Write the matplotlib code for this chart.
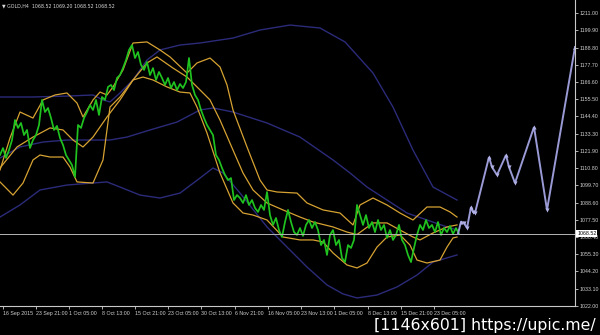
import numpy as np
import matplotlib
matplotlib.use("Agg")
import matplotlib.pyplot as plt
import matplotlib.transforms as mtransforms

# price series (H4 closes, read every 3 bars)
price = [1119.4, 1123.9, 1117.5, 1122.6, 1129.1, 1142.0, 1136.9, 1140.1, 1132.3, 1135.6,
         1123.9, 1129.1, 1132.3, 1138.8, 1155.0, 1147.2, 1149.8, 1143.3, 1135.6, 1138.2,
         1130.4, 1125.9, 1119.4, 1116.2, 1112.9, 1105.2, 1138.8, 1136.9, 1143.3, 1147.2,
         1151.7, 1148.5, 1155.0, 1145.3, 1156.9, 1155.0, 1163.4, 1164.7, 1161.4, 1169.2,
         1171.1, 1175.6, 1180.8, 1187.3, 1190.5, 1182.1, 1186.0, 1177.6, 1174.4, 1179.5,
         1171.1, 1175.6, 1167.9, 1173.1, 1169.2, 1164.7, 1169.2, 1162.7, 1166.6, 1161.4,
         1165.3, 1162.7, 1166.6, 1182.1, 1164.7, 1158.2, 1155.0, 1148.5, 1143.3, 1138.8,
         1135.6, 1132.3, 1119.4, 1116.2, 1111.0, 1106.5, 1103.2, 1104.5, 1090.3, 1093.5,
         1091.6, 1088.4, 1093.5, 1087.1, 1090.3, 1085.2, 1082.6, 1087.1, 1083.9, 1095.5,
         1080.6, 1074.2, 1078.7, 1070.9, 1066.4, 1076.1, 1083.9, 1076.1, 1069.6, 1067.7,
         1072.2, 1067.1, 1074.2, 1077.4, 1072.2, 1076.1, 1070.9, 1061.2, 1064.5, 1054.8,
         1067.7, 1070.9, 1061.2, 1064.5, 1052.8, 1050.2, 1061.2, 1059.3, 1064.5, 1087.1,
         1080.6, 1074.2, 1080.6, 1072.2, 1076.1, 1069.6, 1077.4, 1070.9, 1074.2, 1065.8,
         1070.9, 1064.5, 1067.7, 1074.2, 1064.5, 1061.2, 1054.8, 1050.2, 1059.3, 1067.7,
         1074.2, 1070.9, 1077.4, 1072.2, 1074.2, 1069.6, 1076.1, 1067.7, 1072.2, 1069.6,
         1073.5, 1068.4, 1072.2, 1068.5]
bars = np.arange(len(price)) * 3

# short bollinger bands (orange)
bb_up_x = [0, 10, 20, 33, 43, 55, 67, 77, 83, 93, 100, 107, 113, 123, 133, 147, 160, 170, 187, 197,
           210, 220, 227, 233, 247, 260, 267, 277, 297, 307, 323, 340, 353, 360, 373, 387, 400, 413,
           427, 440, 450, 457]
bb_up = [1109.7, 1130.4, 1147.2, 1143.3, 1155.0, 1158.2, 1159.5, 1153.0, 1144.0, 1155.0, 1160.1,
         1158.2, 1163.4, 1174.4, 1191.8, 1192.5, 1187.3, 1182.8, 1172.4, 1178.9, 1182.1, 1176.3,
         1164.7, 1148.5, 1124.6, 1103.2, 1096.8, 1095.5, 1094.8, 1088.4, 1083.9, 1081.9, 1074.2,
         1087.1, 1091.6, 1087.1, 1081.9, 1077.4, 1085.8, 1085.8, 1082.6, 1079.3]
bb_mid_x = [0, 17, 33, 50, 63, 73, 83, 93, 107, 120, 133, 147, 157, 173, 187, 197, 210, 220, 233,
            243, 253, 267, 283, 300, 313, 333, 347, 357, 373, 387, 400, 413, 420, 433, 447, 457]
bb_mid = [1111.0, 1124.6, 1131.0, 1136.9, 1135.6, 1129.1, 1124.6, 1131.0, 1144.0, 1155.0, 1167.9,
          1178.9, 1182.8, 1175.6, 1169.8, 1163.4, 1155.0, 1142.0, 1122.6, 1107.8, 1096.8, 1088.4,
          1083.9, 1079.3, 1076.1, 1072.9, 1069.6, 1068.0, 1075.5, 1075.5, 1070.9, 1066.4, 1064.5,
          1069.0, 1072.9, 1074.2]
bb_lo_x = [0, 13, 23, 33, 40, 50, 63, 70, 77, 93, 103, 110, 120, 133, 143, 153, 167, 180, 190, 197,
           207, 220, 233, 243, 253, 267, 283, 300, 313, 323, 333, 347, 357, 367, 377, 387, 400, 410,
           417, 427, 440, 447, 453, 457]
bb_lo = [1102.0, 1093.5, 1101.3, 1116.2, 1119.4, 1118.1, 1118.1, 1111.6, 1102.0, 1101.3, 1116.2,
         1150.4, 1156.9, 1167.9, 1169.8, 1167.9, 1163.4, 1160.1, 1159.5, 1150.4, 1133.6, 1107.8,
         1088.4, 1081.9, 1080.6, 1077.4, 1066.4, 1064.5, 1064.5, 1063.2, 1056.1, 1048.3, 1046.4,
         1049.6, 1059.9, 1066.4, 1067.7, 1061.2, 1051.5, 1049.6, 1051.5, 1059.9, 1065.8, 1066.4]

# long bollinger bands (dark blue)
lb_up_x = [0, 33, 67, 93, 103, 110, 120, 133, 147, 160, 180, 200, 233, 260, 290, 320, 345, 373,
           393, 413, 433, 457]
lb_up = [1156.9, 1156.9, 1157.5, 1158.2, 1155.0, 1153.7, 1159.5, 1167.9, 1180.8, 1187.3, 1190.5,
         1191.8, 1195.0, 1200.2, 1203.4, 1201.5, 1192.5, 1172.4, 1150.4, 1122.6, 1098.7, 1090.3]
lb_mid_x = [0, 20, 43, 67, 93, 110, 127, 150, 177, 200, 213, 233, 267, 300, 333, 350, 367, 387,
            407, 427, 447, 457]
lb_mid = [1117.5, 1124.6, 1127.8, 1129.1, 1129.1, 1129.1, 1131.0, 1135.6, 1140.7, 1148.5, 1149.8,
          1147.2, 1140.1, 1131.0, 1116.2, 1107.8, 1098.7, 1090.3, 1081.9, 1077.4, 1072.9, 1070.9]
lb_lo_x = [0, 20, 40, 67, 93, 107, 120, 140, 160, 180, 200, 213, 223, 240, 267, 287, 307, 327,
           343, 357, 377, 397, 417, 433, 457]
lb_lo = [1079.3, 1087.1, 1096.8, 1100.0, 1101.3, 1102.0, 1098.7, 1093.5, 1091.6, 1094.8, 1104.5,
         1111.0, 1107.8, 1094.8, 1072.9, 1059.9, 1047.0, 1035.4, 1029.6, 1027.0, 1028.9, 1034.1,
         1041.8, 1050.2, 1054.8]

# forecast path
fc_x = [458, 461, 464, 467, 471, 473, 475, 489, 492, 497, 506, 509, 515, 534, 547, 575]
fc = [1068.5, 1076.1, 1075.5, 1072.2, 1085.8, 1082.6, 1081.9, 1118.1, 1111.6, 1106.5,
      1119.4, 1111.6, 1101.3, 1137.5, 1083.9, 1189.2]

last_price = 1068.52
y_ticks = [1211.00, 1199.90, 1188.80, 1177.70, 1166.60, 1155.50, 1144.40, 1133.30, 1121.90,
           1110.80, 1099.70, 1088.60, 1077.50, 1066.40, 1055.30, 1044.20, 1033.10, 1022.00]
x_tick_pos = [3, 36, 69, 102, 135, 168, 201, 235, 268, 301, 334, 368, 401, 434]
x_tick_lab = ["16 Sep 2015", "23 Sep 21:00", "1 Oct 05:00", "8 Oct 13:00", "15 Oct 21:00",
              "23 Oct 05:00", "30 Oct 13:00", "6 Nov 21:00", "16 Nov 05:00", "23 Nov 13:00",
              "1 Dec 05:00", "8 Dec 13:00", "15 Dec 21:00", "23 Dec 05:00"]

fig = plt.figure(figsize=(6, 3.35), dpi=100, facecolor="black")
ax = fig.add_axes([0, 29 / 335, 575 / 600, 306 / 335])
ax.set_facecolor("black")

blue = "#2b2b7a"
orange = "#d6a232"
ax.plot(lb_up_x, lb_up, color=blue, lw=1)
ax.plot(lb_mid_x, lb_mid, color=blue, lw=1)
ax.plot(lb_lo_x, lb_lo, color=blue, lw=1)
ax.plot(bb_up_x, bb_up, color=orange, lw=0.9)
ax.plot(bb_mid_x, bb_mid, color=orange, lw=0.9)
ax.plot(bb_lo_x, bb_lo, color=orange, lw=0.9)
ax.plot(bars, price, color="#1fc21f", lw=1.25)

# current price line
ax.axhline(last_price, color="#b4b4b4", lw=0.7)

# forecast with arrow markers
ax.plot(fc_x, fc, color="#9a9ad6", lw=1.4, solid_joinstyle="miter")
for i in range(1, len(fc) - 1):
    m = "^" if fc[i] > fc[i - 1] else "v"
    ax.plot(fc_x[i], fc[i], marker=m, ms=3, color="#b0b0e6", mec="none")
ax.plot(fc_x[-1], fc[-1], marker="^", ms=3.5, color="#b0b0e6", mec="none")

ax.set_xlim(0, 575)
ax.set_ylim(1021.8, 1219.6)

for s in ["left", "top"]:
    ax.spines[s].set_visible(False)
for s in ["right", "bottom"]:
    ax.spines[s].set_color("#c8c8c8")
    ax.spines[s].set_linewidth(0.8)

small = ["Liberation Sans Narrow", "Liberation Sans", "DejaVu Sans"]
ax.yaxis.tick_right()
ax.set_yticks(y_ticks)
ax.set_yticklabels([f"{v:.2f}" for v in y_ticks], family=small)
ax.tick_params(axis="y", colors="#d0d0d0", labelsize=3.8, length=2, width=0.6, pad=1.5)
ax.set_xticks(x_tick_pos)
ax.set_xticklabels(x_tick_lab, ha="left", family=small)
ax.tick_params(axis="x", colors="#d0d0d0", labelsize=3.8, length=2, width=0.6, pad=1.5)

trans = mtransforms.blended_transform_factory(ax.transAxes, ax.transData)
ax.text(1.004, last_price, f"{last_price:.2f}", transform=trans, fontsize=3.8, color="black",
        va="center", ha="left", zorder=10, family=small,
        bbox=dict(facecolor="white", edgecolor="none", pad=0.6))

ax.text(0.004, 0.99, "\u25bc GOLD,H4  1068.52 1069.20 1068.52 1068.52", transform=ax.transAxes,
        fontsize=3.4, color="#d8d8d8", va="top", ha="left")

fig.text(0.993, 0.028, "[1146x601] https://upic.me/", fontsize=11.3, color="white",
         ha="right", va="center")

fig.savefig("out.png", dpi=100, facecolor="black")
